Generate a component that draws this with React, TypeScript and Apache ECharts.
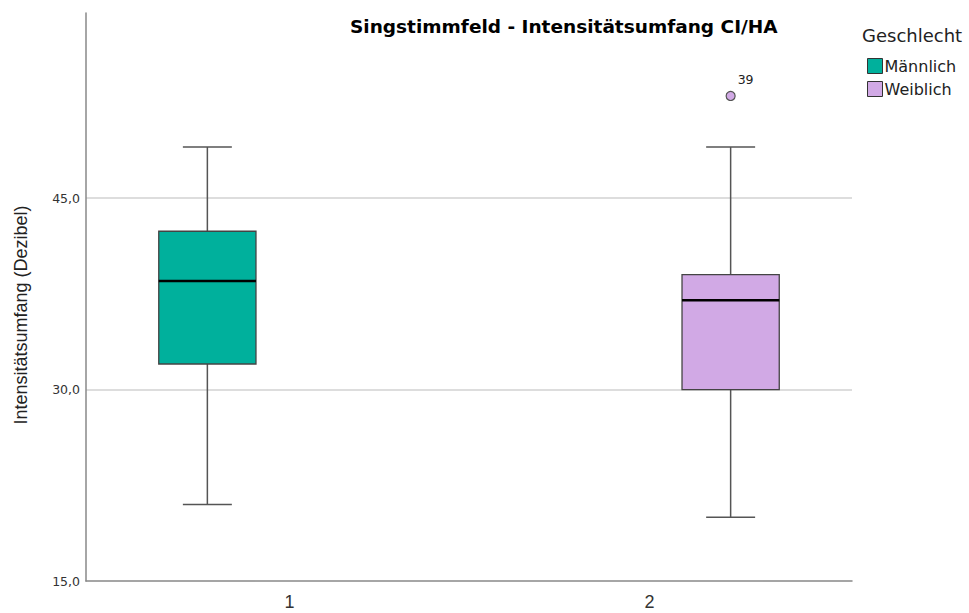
import React, { useEffect, useRef } from 'react';
import * as echarts from 'echarts';

// ---- data ----
const categories = [1, 2];
const groupNames = ['Männlich', 'Weiblich'];
const groupColors = ['#00B09C', '#D1A9E5'];
// [category, min, Q1, median, Q3, max]
const maleBox = [1, 21, 32, 38.5, 42.4, 49];
const femaleBox = [2, 20, 30, 37, 39, 49];
// outliers of the female group: [category, value]
const femaleOutliers = [[2, 53]];
const femaleOutlierIds = ['39'];
const yTickLabels = [15, 30, 45];
const titleText = 'Singstimmfeld - Intensitätsumfang CI/HA';
const legendTitle = 'Geschlecht';
const yAxisName = 'Intensitätsumfang (Dezibel)';

// ---- layout (not data) ----
const dodge = [-0.228, 0.225];
const boxHalfUnits = 0.135;
const capHalfUnits = 0.068;
const WIDE = 'DejaVu Sans, Verdana, sans-serif';
const ARIAL = 'Liberation Sans, Arial, sans-serif';

const makeBoxRender = (offset: number) => (params: any, api: any) => {
  const x = api.value(0) + offset;
  const unit = api.size([1, 0])[0];
  const half = unit * boxHalfUnits;
  const capHalf = unit * capHalfUnits;
  const cx = api.coord([x, api.value(1)])[0];
  const yLo = api.coord([x, api.value(1)])[1];
  const yQ1 = api.coord([x, api.value(2)])[1];
  const yMed = api.coord([x, api.value(3)])[1];
  const yQ3 = api.coord([x, api.value(4)])[1];
  const yHi = api.coord([x, api.value(5)])[1];
  const color = api.visual('color');
  const wStyle = { stroke: '#555555', lineWidth: 1.5 };
  return {
    type: 'group',
    children: [
      { type: 'line', shape: { x1: cx, y1: yLo, x2: cx, y2: yQ1 }, style: wStyle },
      { type: 'line', shape: { x1: cx, y1: yQ3, x2: cx, y2: yHi }, style: wStyle },
      { type: 'line', shape: { x1: cx - capHalf, y1: yLo, x2: cx + capHalf, y2: yLo }, style: wStyle },
      { type: 'line', shape: { x1: cx - capHalf, y1: yHi, x2: cx + capHalf, y2: yHi }, style: wStyle },
      {
        type: 'rect',
        shape: { x: cx - half, y: yQ3, width: half * 2, height: yQ1 - yQ3 },
        style: { fill: color, stroke: '#444444', lineWidth: 1.3 },
      },
      {
        type: 'line',
        shape: { x1: cx - half, y1: yMed, x2: cx + half, y2: yMed },
        style: { stroke: '#000000', lineWidth: 2.5 },
      },
    ],
  };
};

const makeOutlierRender = (offset: number, ids: string[]) => (params: any, api: any) => {
  const p = api.coord([api.value(0) + offset, api.value(1)]);
  const color = api.visual('color');
  return {
    type: 'group',
    children: [
      { type: 'circle', shape: { cx: p[0], cy: p[1], r: 4.5 }, style: { fill: color, stroke: '#555555', lineWidth: 1.2 } },
      {
        type: 'text',
        x: p[0] + 7,
        y: p[1] - 16,
        style: { text: ids[params.dataIndex], fill: '#222222', font: '12.5px ' + WIDE, align: 'left', verticalAlign: 'middle' },
      },
    ],
  };
};

export default function App() {
  const ref = useRef<HTMLDivElement>(null);
  useEffect(() => {
    if (!ref.current) return;
    const chart = echarts.init(ref.current, undefined, { renderer: 'svg' });
    const option: any = {
      animation: false,
      backgroundColor: '#ffffff',
      title: [
        {
          text: titleText,
          left: 350,
          top: 17,
          padding: 0,
          textStyle: { fontFamily: WIDE, fontWeight: 'bold', fontSize: 18.5, color: '#000000' },
        },
        {
          text: legendTitle,
          left: 862,
          top: 26,
          padding: 0,
          textStyle: { fontFamily: WIDE, fontWeight: 'normal', fontSize: 18, color: '#222222' },
        },
      ],
      legend: {
        orient: 'vertical',
        left: 867,
        top: 58,
        padding: 0,
        itemWidth: 15,
        itemHeight: 15,
        itemGap: 7,
        icon: 'rect',
        selectedMode: false,
        data: groupNames.map((n, i) => ({
          name: n,
          itemStyle: { color: groupColors[i], borderColor: '#333333', borderWidth: 1 },
        })),
        textStyle: { fontFamily: WIDE, fontSize: 16, color: '#222222', padding: [0, 0, 0, -3] },
      },
      grid: { left: 86, right: 117, top: 13, bottom: 32, containLabel: false },
      xAxis: {
        type: 'value',
        min: 0.435,
        max: 2.562,
        axisLine: { show: true, onZero: false, lineStyle: { color: '#888888', width: 1.5 } },
        axisTick: { show: false },
        splitLine: { show: false },
        axisLabel: {
          showMinLabel: false,
          showMaxLabel: false,
          margin: 12,
          fontFamily: ARIAL,
          fontSize: 18,
          color: '#333333',
          formatter: (v: number) => (categories.includes(v) ? String(v) : ''),
        },
      },
      yAxis: {
        type: 'value',
        min: yTickLabels[0],
        max: 59.5,
        interval: 15,
        name: yAxisName,
        nameLocation: 'middle',
        nameGap: 56,
        nameTextStyle: { fontFamily: ARIAL, fontSize: 18, color: '#222222', padding: [0, 36, 0, 0] },
        axisLine: { show: true, onZero: false, lineStyle: { color: '#888888', width: 1.5 } },
        axisTick: { show: false },
        axisLabel: {
          showMaxLabel: false,
          margin: 6,
          fontFamily: WIDE,
          fontSize: 12.5,
          color: '#333333',
          formatter: (v: number) => (yTickLabels.includes(v) ? v.toFixed(1).replace('.', ',') : ''),
        },
        splitLine: {
          show: true,
          showMinLine: false,
          showMaxLine: false,
          lineStyle: { color: '#d2d2d2', width: 1.5 },
        },
      },
      series: [
        {
          name: groupNames[0],
          type: 'custom',
          itemStyle: { color: groupColors[0] },
          encode: { x: 0, y: [1, 2, 3, 4, 5] },
          renderItem: makeBoxRender(dodge[0]),
          data: [maleBox],
        },
        {
          name: groupNames[1],
          type: 'custom',
          itemStyle: { color: groupColors[1] },
          encode: { x: 0, y: [1, 2, 3, 4, 5] },
          renderItem: makeBoxRender(dodge[1]),
          data: [femaleBox],
        },
        {
          name: 'Ausreißer Weiblich',
          type: 'custom',
          itemStyle: { color: groupColors[1] },
          encode: { x: 0, y: 1 },
          renderItem: makeOutlierRender(dodge[1], femaleOutlierIds),
          data: femaleOutliers,
        },
      ],
    };
    chart.setOption(option);
    return () => chart.dispose();
  }, []);
  return (
    <div
      ref={ref}
      style={{ position: 'absolute', left: 0, top: 0, width: 969, height: 613, background: '#ffffff' }}
    />
  );
}
